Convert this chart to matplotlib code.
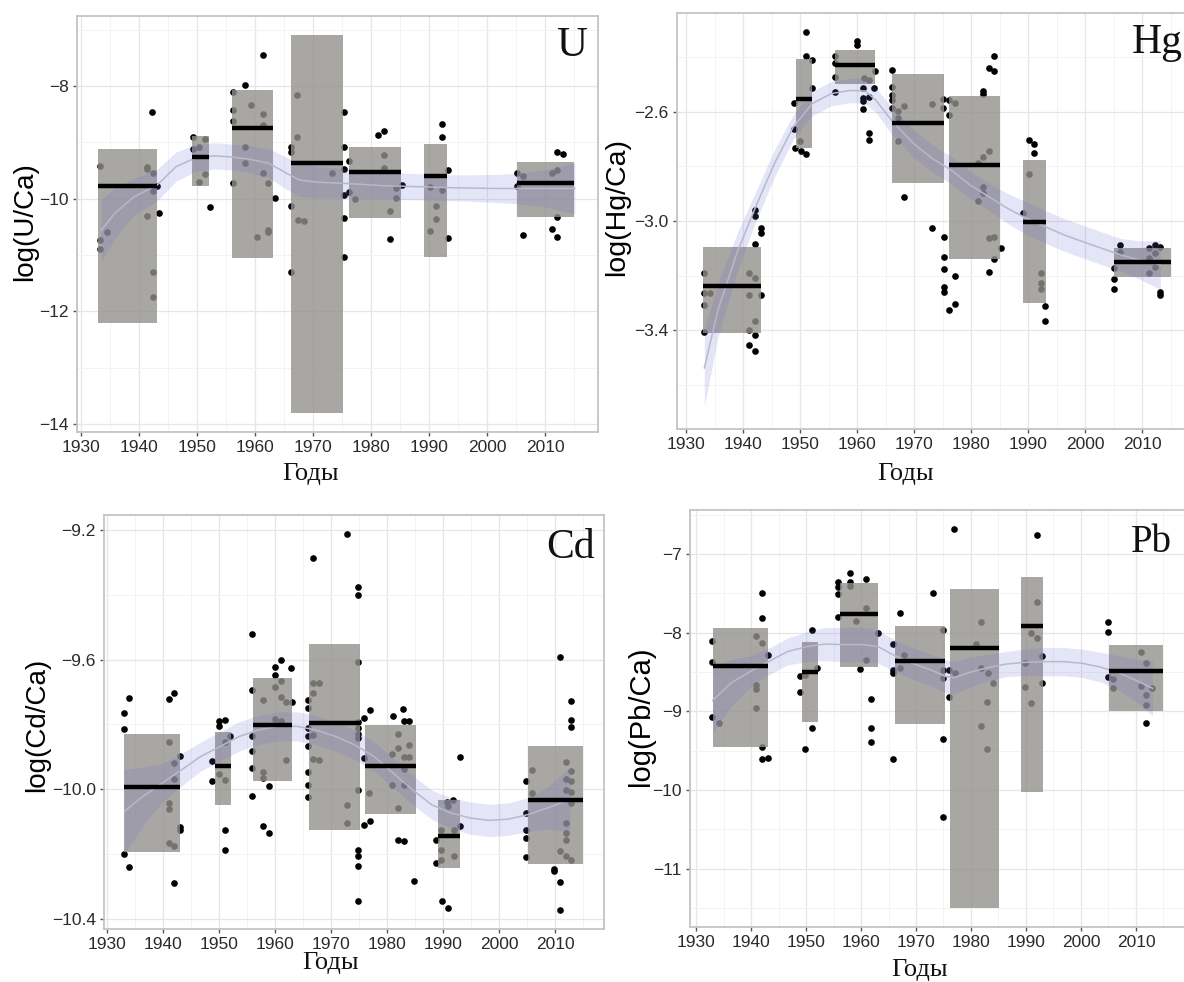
import matplotlib
matplotlib.use("Agg")
import matplotlib.pyplot as plt
from matplotlib.patches import Rectangle
from matplotlib.ticker import FixedLocator
import numpy as np

W, H = 1184, 982

# ---------------- data ----------------
group_start = [1933.0, 1949.2, 1956.1, 1966.1, 1976.1, 1989.1, 2005.1]
group_end = [1943.1, 1952.1, 1963.1, 1975.2, 1985.1, 1993.1, 2015.0]
year_ticks = [1930, 1940, 1950, 1960, 1970, 1980, 1990, 2000, 2010]

# U
U_box_low = [-12.21, -9.78, -11.05, -13.81, -10.35, -11.03, -10.33]
U_box_high = [-9.12, -8.89, -8.08, -7.10, -9.09, -9.03, -9.35]
U_box_median = [-9.78, -9.27, -8.74, -9.36, -9.53, -9.60, -9.72]
U_pts_year = [1933.3, 1933.3, 1933.3, 1934.5, 1941.3, 1941.3, 1942.4, 1942.4, 1941.3, 1942.4, 1942.4, 1942.3, 1943.4, 1943.1,
              1949.3, 1949.3, 1950.3, 1951.4, 1951.4, 1950.4, 1952.3,
              1956.2, 1956.2, 1956.2, 1956.2, 1958.3, 1959.3, 1961.3, 1961.3, 1958.3, 1958.3, 1961.3, 1962.3, 1960.3, 1962.3, 1962.3, 1961.3, 1963.4,
              1966.2, 1966.2, 1966.2, 1966.2, 1967.2, 1967.2, 1967.4, 1968.4, 1973.2, 1975.4, 1975.4, 1975.4, 1975.4, 1975.4, 1975.4,
              1976.2, 1976.2, 1977.3, 1981.2, 1982.2, 1982.2, 1982.2, 1984.2, 1984.2, 1983.2, 1983.2, 1985.4,
              1992.2, 1992.2, 1993.2, 1990.2, 1992.2, 1991.1, 1991.1, 1990.2, 1993.2,
              2005.1, 2005.1, 2006.2, 2006.2, 2011.2, 2012.1, 2012.1, 2013.1, 2012.1, 2011.2, 2012.1]
U_pts_val = [-9.42, -10.74, -10.90, -10.59, -9.43, -9.47, -9.55, -9.87, -10.30, -11.31, -11.74, -8.46, -10.26, -9.77,
             -8.90, -9.12, -9.08, -8.95, -9.57, -9.70, -10.14,
             -8.10, -8.43, -8.62, -9.73, -7.99, -8.34, -8.49, -8.69, -9.08, -9.37, -9.54, -9.72, -10.68, -10.56, -10.60, -7.46, -9.98,
             -9.08, -9.17, -10.13, -11.30, -8.17, -8.90, -10.38, -10.39, -9.54, -8.46, -9.08, -9.47, -9.94, -10.35, -11.03,
             -9.34, -9.88, -10.01, -8.87, -8.80, -9.23, -9.45, -9.81, -9.98, -10.22, -10.72, -9.76,
             -8.68, -8.90, -9.50, -9.79, -9.85, -10.13, -10.36, -10.57, -10.69,
             -9.55, -9.77, -9.59, -10.64, -9.55, -9.49, -9.18, -9.21, -10.32, -10.53, -10.68]
U_fit_year = [1933.5, 1935.8, 1939.1, 1943.1, 1946.4, 1949.7, 1953.0, 1955.7, 1959.0, 1962.3, 1964.9, 1967.6, 1970.9,
              1975.5, 1982.1, 1988.7, 1995.3, 2001.9, 2005.2, 2010.0, 2015.1]
U_fit_val = [-10.56, -10.26, -9.97, -9.76, -9.43, -9.28, -9.24, -9.26, -9.30, -9.37, -9.52, -9.67, -9.71,
             -9.73, -9.77, -9.79, -9.81, -9.82, -9.82, -9.82, -9.82]
U_fit_half = [0.55, 0.45, 0.33, 0.28, 0.26, 0.24, 0.23, 0.23, 0.24, 0.26, 0.28, 0.29, 0.28,
              0.26, 0.24, 0.23, 0.23, 0.25, 0.27, 0.33, 0.45]

# Hg
Hg_box_low = [-3.411, -2.734, -2.496, -2.862, -3.140, -3.301, -3.206]
Hg_box_high = [-3.094, -2.405, -2.372, -2.460, -2.543, -2.777, -3.098]
Hg_box_median = [-3.238, -2.554, -2.429, -2.640, -2.796, -3.002, -3.152]
Hg_pts_year = [1933.1, 1933.1, 1933.1, 1933.1, 1934.2, 1941.0, 1941.0, 1942.1, 1942.1, 1941.0, 1942.1, 1941.0, 1942.1, 1942.1, 1942.1, 1942.1, 1943.1, 1943.1, 1943.1,
               1951.1, 1951.1, 1952.1, 1952.1, 1948.9, 1948.9, 1949.1, 1950.1, 1951.1, 1950.0,
               1956.1, 1956.1, 1956.1, 1956.1, 1960.0, 1960.0, 1961.0, 1961.0, 1961.0, 1961.0, 1962.1, 1962.1, 1962.1, 1963.0, 1963.2, 1961.2, 1962.0,
               1966.1, 1966.1, 1966.1, 1966.1, 1966.1, 1967.2, 1967.2, 1968.2, 1967.2, 1968.2, 1973.1, 1973.1, 1975.1, 1975.1, 1975.2, 1975.2, 1975.2, 1975.2, 1975.2,
               1976.2, 1976.2, 1977.2, 1976.1, 1977.1, 1977.1,
               1982.1, 1982.1, 1983.1, 1984.1, 1984.1, 1983.1, 1982.1, 1981.2, 1982.1, 1982.1, 1981.2, 1983.1, 1984.1, 1984.1, 1983.1, 1985.2,
               1990.1, 1991.1, 1991.1, 1990.1, 1989.1, 1992.2, 1992.2, 1992.2, 1993.0, 1993.0,
               2005.1, 2005.1, 2005.1, 2006.1, 2006.1, 2011.2, 2011.2, 2011.2, 2012.2, 2013.2, 2012.2, 2012.2, 2013.2, 2013.2]
Hg_pts_val = [-3.191, -3.265, -3.309, -3.409, -3.265, -3.189, -3.271, -3.210, -3.365, -3.399, -3.417, -3.456, -3.476, -2.960, -2.982, -3.085, -3.027, -3.043, -3.273,
              -2.307, -2.396, -2.411, -2.511, -2.567, -2.661, -2.732, -2.744, -2.755, -2.707,
              -2.396, -2.421, -2.470, -2.527, -2.338, -2.356, -2.511, -2.549, -2.561, -2.588, -2.545, -2.677, -2.704, -2.511, -2.448, -2.476, -2.482,
              -2.445, -2.509, -2.537, -2.557, -2.584, -2.596, -2.624, -2.579, -2.706, -2.911, -2.572, -3.024, -2.554, -2.584, -3.060, -3.133, -3.177, -3.243, -3.261,
              -2.557, -2.612, -2.567, -3.326, -3.305, -3.200,
              -2.523, -2.535, -2.439, -2.451, -2.396, -2.744, -2.765, -2.789, -2.874, -2.899, -2.927, -3.063, -3.060, -3.140, -3.188, -3.098,
              -2.704, -2.716, -2.752, -2.826, -2.972, -3.189, -3.228, -3.250, -3.310, -3.368,
              -3.171, -3.213, -3.250, -3.088, -3.115, -3.100, -3.137, -3.191, -3.088, -3.094, -3.118, -3.167, -3.259, -3.271]
Hg_fit_year = [1933.2, 1935.6, 1938.9, 1942.2, 1945.5, 1948.8, 1952.1, 1955.4, 1958.7, 1961.4, 1963.3, 1966.0, 1969.9,
               1973.2, 1976.5, 1979.8, 1983.1, 1986.4, 1989.7, 1993.0, 1996.3, 1999.6, 2002.9, 2006.2, 2009.5, 2013.2]
Hg_fit_val = [-3.539, -3.326, -3.118, -2.948, -2.789, -2.655, -2.570, -2.533, -2.521, -2.523, -2.557, -2.630, -2.716,
              -2.771, -2.813, -2.868, -2.911, -2.954, -2.990, -3.021, -3.051, -3.076, -3.100, -3.124, -3.143, -3.161]
Hg_fit_half = [0.14, 0.10, 0.07, 0.055, 0.05, 0.045, 0.045, 0.045, 0.045, 0.045, 0.045, 0.05, 0.05,
               0.05, 0.05, 0.05, 0.05, 0.055, 0.06, 0.06, 0.06, 0.06, 0.06, 0.06, 0.07, 0.09]

# Cd
Cd_box_low = [-10.194, -10.050, -9.974, -10.127, -10.075, -10.243, -10.231]
Cd_box_high = [-9.829, -9.822, -9.658, -9.551, -9.801, -10.034, -9.868]
Cd_box_median = [-9.993, -9.929, -9.803, -9.796, -9.927, -10.145, -10.032]
Cd_pts_year = [1933.0, 1933.0, 1934.0, 1933.0, 1934.0, 1941.0, 1942.0, 1941.0, 1942.0, 1942.0, 1941.0, 1941.0, 1941.0, 1942.0, 1943.1, 1943.1, 1943.1, 1942.0,
               1950.0, 1950.0, 1951.0, 1948.8, 1948.8, 1950.0, 1951.0, 1951.0, 1952.0, 1951.0, 1951.0,
               1955.9, 1955.9, 1955.9, 1955.9, 1955.9, 1955.9, 1957.9, 1960.0, 1960.0, 1960.0, 1961.0, 1962.9, 1961.0, 1961.0, 1962.0, 1963.0, 1960.0, 1961.0, 1962.0, 1957.9, 1957.9, 1959.0, 1957.9, 1959.0,
               1965.8, 1965.8, 1965.8, 1965.8, 1965.8, 1965.8, 1965.8, 1965.8, 1966.8, 1966.8, 1967.8, 1966.8, 1966.8, 1966.8, 1967.8, 1972.8, 1972.8, 1972.8,
               1974.9, 1974.9, 1974.9, 1974.9, 1974.9, 1974.9, 1974.9, 1974.9, 1974.9, 1974.9, 1974.9, 1974.9,
               1975.9, 1975.9, 1977.0, 1977.0, 1975.9, 1976.8, 1981.1, 1982.8, 1983.0, 1984.0, 1981.9, 1984.0, 1980.9, 1981.9, 1983.0, 1984.0, 1983.0, 1980.9, 1983.0, 1981.9, 1981.9, 1983.0, 1984.9,
               1988.7, 1988.7, 1989.7, 1990.7, 1991.8, 1989.7, 1991.9, 1990.9, 1993.0, 1993.0, 1991.9, 1989.7, 1989.9, 1990.9,
               2004.8, 2004.8, 2004.8, 2004.8, 2004.8, 2005.9, 2005.9, 2010.9, 2010.9, 2010.9, 2011.9, 2011.9, 2011.9, 2011.9, 2011.9, 2011.9, 2011.9, 2010.9,
               2009.8, 2009.8, 2012.9, 2012.9, 2012.9, 2012.9, 2012.9, 2012.9, 2012.9, 2012.9]
Cd_pts_val = [-9.765, -9.813, -9.717, -10.199, -10.241, -9.721, -9.702, -9.854, -9.920, -9.969, -10.043, -10.061, -10.166, -10.174, -9.898, -10.117, -10.127, -10.288,
              -9.789, -9.806, -9.786, -9.914, -9.976, -9.953, -9.971, -9.854, -9.837, -10.125, -10.188,
              -9.522, -9.693, -9.837, -9.883, -9.935, -10.020, -9.724, -9.685, -9.624, -9.647, -9.601, -9.626, -9.667, -9.714, -9.732, -9.732, -9.784, -9.789, -9.909, -9.948, -9.965, -9.989, -10.114, -10.135,
              -9.724, -9.748, -9.811, -9.837, -9.868, -9.947, -9.986, -10.024, -9.288, -9.673, -9.673, -9.704, -9.834, -9.907, -9.909, -9.212, -10.048, -10.104,
              -9.606, -9.794, -9.811, -9.829, -9.842, -10.001, -10.186, -10.207, -10.238, -10.344, -9.377, -9.400,
              -9.780, -9.904, -9.755, -10.099, -10.109, -10.010, -9.773, -9.752, -9.788, -9.788, -9.829, -9.863, -9.890, -9.873, -9.899, -9.899, -9.938, -9.986, -9.986, -10.058, -10.156, -10.161, -10.284,
              -10.156, -10.227, -10.125, -10.040, -10.034, -10.186, -10.125, -10.053, -9.899, -10.114, -10.207, -10.217, -10.344, -10.366,
              -9.976, -10.073, -10.125, -10.150, -10.209, -9.942, -10.012, -9.592, -10.287, -10.373, -9.916, -9.969, -10.001, -10.104, -10.135, -10.156, -10.207, -10.191,
              -10.246, -10.253, -9.729, -9.786, -9.809, -9.945, -9.976, -10.007, -10.042, -10.217]
Cd_fit_year = [1933.1, 1936.4, 1939.8, 1943.3, 1946.7, 1950.2, 1953.6, 1957.0, 1960.5, 1963.9, 1967.3, 1970.8,
               1974.2, 1977.7, 1981.1, 1984.5, 1988.0, 1991.4, 1994.9, 1998.3, 2001.7, 2005.2, 2008.6, 2012.7]
Cd_fit_val = [-10.068, -10.022, -9.981, -9.940, -9.899, -9.868, -9.837, -9.817, -9.806, -9.806, -9.817, -9.837,
              -9.863, -9.899, -9.950, -10.001, -10.048, -10.073, -10.089, -10.096, -10.092, -10.078, -10.058, -10.032]
Cd_fit_half = [0.13, 0.09, 0.06, 0.05, 0.045, 0.045, 0.045, 0.045, 0.045, 0.045, 0.045, 0.045,
               0.045, 0.045, 0.045, 0.045, 0.045, 0.047, 0.05, 0.05, 0.05, 0.052, 0.065, 0.10]

# Pb
Pb_box_low = [-9.455, -9.129, -8.431, -9.159, -11.504, -10.026, -8.994]
Pb_box_high = [-7.935, -8.122, -7.372, -7.914, -7.444, -7.292, -8.151]
Pb_box_median = [-8.422, -8.503, -7.766, -8.355, -8.189, -7.914, -8.481]
Pb_pts_year = [1932.9, 1932.9, 1932.9, 1934.1, 1940.9, 1942.0, 1940.9, 1940.9, 1940.9, 1942.0, 1942.0, 1943.0, 1942.0, 1942.0, 1943.0,
               1948.9, 1948.9, 1949.9, 1951.0, 1952.0, 1951.0, 1949.9,
               1955.9, 1955.9, 1955.9, 1955.9, 1958.0, 1958.0, 1958.0, 1960.9, 1960.9, 1959.0, 1960.9, 1959.9, 1963.1, 1961.9, 1961.9, 1961.9,
               1965.9, 1965.9, 1965.9, 1967.0, 1967.0, 1967.9, 1965.9, 1973.0, 1975.0, 1975.0, 1975.0, 1975.0, 1975.0, 1976.0, 1976.0, 1977.1,
               1977.0, 1981.0, 1981.9, 1981.9, 1983.1, 1984.0, 1982.9, 1981.9, 1982.9,
               1992.0, 1992.0, 1991.0, 1992.0, 1993.0, 1993.0, 1989.9, 1989.9, 1991.0,
               2004.9, 2004.9, 2004.9, 2005.9, 2005.9, 2010.9, 2011.9, 2010.9, 2011.9, 2011.9, 2013.0, 2011.9]
Pb_pts_val = [-8.101, -8.376, -9.066, -9.150, -8.037, -8.126, -8.659, -8.710, -8.960, -7.499, -7.813, -8.283, -9.447, -9.607, -9.595,
              -8.545, -8.757, -8.537, -7.965, -8.452, -9.214, -9.480,
              -7.360, -7.423, -7.512, -7.796, -7.237, -7.351, -7.406, -7.317, -7.681, -7.851, -8.346, -8.465, -7.999, -8.841, -9.210, -9.392,
              -8.147, -8.473, -8.507, -7.745, -8.452, -8.283, -9.603, -7.499, -7.965, -8.473, -8.579, -9.353, -10.348, -8.473, -8.812, -8.515,
              -6.683, -8.147, -7.859, -8.443, -8.507, -8.642, -8.884, -9.184, -9.480,
              -6.759, -7.605, -7.999, -8.067, -8.295, -8.634, -8.388, -8.693, -8.888,
              -7.868, -7.995, -8.566, -8.592, -8.706, -8.240, -8.388, -8.676, -8.790, -8.918, -8.706, -9.150]
Pb_fit_year = [1933.0, 1936.3, 1939.8, 1943.2, 1946.6, 1950.1, 1953.5, 1956.9, 1960.4, 1963.1, 1965.9, 1969.3, 1972.7,
               1975.5, 1976.9, 1979.6, 1983.1, 1986.5, 1989.9, 1993.4, 1996.8, 2000.2, 2003.7, 2007.1, 2010.5, 2013.0]
Pb_fit_val = [-8.862, -8.642, -8.494, -8.367, -8.240, -8.177, -8.143, -8.151, -8.151, -8.177, -8.283, -8.388, -8.473,
              -8.558, -8.570, -8.507, -8.443, -8.397, -8.376, -8.367, -8.367, -8.388, -8.439, -8.515, -8.621, -8.706]
Pb_fit_half = [0.42, 0.30, 0.20, 0.17, 0.17, 0.19, 0.21, 0.22, 0.22, 0.21, 0.20, 0.20, 0.20,
               0.21, 0.21, 0.19, 0.17, 0.16, 0.17, 0.18, 0.18, 0.18, 0.19, 0.22, 0.28, 0.35]

# ---------------- style ----------------
SANS = ["Liberation Sans", "DejaVu Sans"]
SERIF = ["Liberation Serif", "DejaVu Serif"]
BOX_COLOR = (0.58, 0.57, 0.55)
BAND_COLOR = "#6a6ad8"
FIT_COLOR = "#b8b8cc"
GRID_MAJOR = "#e6e6e6"
GRID_MINOR = "#f3f3f3"
BORDER = "#c4c4c4"

fig = plt.figure(figsize=(W / 100, H / 100), dpi=100)
fig.patch.set_facecolor("white")


def px_axes(left, top, right, bottom):
    return fig.add_axes([left / W, 1 - bottom / H, (right - left) / W, (bottom - top) / H])


def panel(ax, xlim, ylim, yticks, yminor, ylabels, box_low, box_high, box_med,
          pts_x, pts_y, fit_x, fit_y, fit_half):
    ax.set_facecolor("white")
    ax.set_xlim(*xlim)
    ax.set_ylim(*ylim)
    ax.xaxis.set_major_locator(FixedLocator(year_ticks))
    ax.xaxis.set_minor_locator(FixedLocator([t + 5 for t in year_ticks]))
    ax.yaxis.set_major_locator(FixedLocator(yticks))
    ax.yaxis.set_minor_locator(FixedLocator(yminor))
    ax.set_yticklabels(ylabels)
    ax.set_xticklabels([str(t) for t in year_ticks])
    ax.grid(True, which="major", color=GRID_MAJOR, lw=0.9, zorder=0)
    ax.grid(True, which="minor", color=GRID_MINOR, lw=0.7, zorder=0)
    ax.set_axisbelow(True)
    for s in ax.spines.values():
        s.set_color(BORDER)
        s.set_linewidth(1.3)
    ax.tick_params(which="major", length=3, width=1.0, color="#555555", pad=3,
                   labelsize=12.5, labelcolor="#2a2a2a")
    ax.tick_params(which="minor", length=0)
    for lab in ax.get_xticklabels() + ax.get_yticklabels():
        lab.set_family(SANS)

    ax.scatter(pts_x, pts_y, s=23, color="black", lw=0, zorder=2)
    for x0, x1, lo, hi in zip(group_start, group_end, box_low, box_high):
        ax.add_patch(Rectangle((x0, lo), x1 - x0, hi - lo, facecolor=BOX_COLOR,
                               edgecolor="none", alpha=0.8, zorder=3))
    fx = np.asarray(fit_x)
    fy = np.asarray(fit_y)
    fh = np.asarray(fit_half)
    ax.fill_between(fx, fy - fh, fy + fh, color=BAND_COLOR, alpha=0.17, lw=0, zorder=4)
    ax.plot(fx, fy, color=FIT_COLOR, lw=1.1, zorder=5)
    for x0, x1, m in zip(group_start, group_end, box_med):
        ax.plot([x0, x1], [m, m], color="black", lw=3.2, solid_capstyle="butt", zorder=6)
    return ax


axU = px_axes(77, 16, 598, 432)
panel(axU, (1929.3, 2019.1), (-14.14, -6.76), [-8, -10, -12, -14], [-7, -9, -11, -13],
      ["\u22128", "\u221210", "\u221212", "\u221214"],
      U_box_low, U_box_high, U_box_median, U_pts_year, U_pts_val,
      U_fit_year, U_fit_val, U_fit_half)
axHg = px_axes(677, 13, 1194, 429)
panel(axHg, (1928.4, 2019.1), (-3.763, -2.237), [-2.6, -3.0, -3.4], [-2.4, -2.8, -3.2, -3.6],
      ["\u22122.6", "\u22123.0", "\u22123.4"],
      Hg_box_low, Hg_box_high, Hg_box_median, Hg_pts_year, Hg_pts_val,
      Hg_fit_year, Hg_fit_val, Hg_fit_half)
axCd = px_axes(104, 515, 604, 929)
panel(axCd, (1929.45, 2018.75), (-10.431, -9.154), [-9.2, -9.6, -10.0, -10.4], [-9.4, -9.8, -10.2],
      ["\u22129.2", "\u22129.6", "\u221210.0", "\u221210.4"],
      Cd_box_low, Cd_box_high, Cd_box_median, Cd_pts_year, Cd_pts_val,
      Cd_fit_year, Cd_fit_val, Cd_fit_half)
axPb = px_axes(690, 510, 1186, 927)
panel(axPb, (1928.9, 2019.1), (-11.74, -6.44), [-7, -8, -9, -10, -11], [-6.5, -7.5, -8.5, -9.5, -10.5, -11.5],
      ["\u22127", "\u22128", "\u22129", "\u221210", "\u221211"],
      Pb_box_low, Pb_box_high, Pb_box_median, Pb_pts_year, Pb_pts_val,
      Pb_fit_year, Pb_fit_val, Pb_fit_half)


def ftext(x, y, s, **kw):
    fig.text(x / W, 1 - y / H, s, ha="center", va="center", **kw)


ftext(25, 222, "log(U/Ca)", rotation=90, fontsize=20, family=SANS, color="black")
ftext(617, 207, "log(Hg/Ca)", rotation=90, fontsize=20.5, family=SANS, color="black")
ftext(37, 725, "log(Cd/Ca)", rotation=90, fontsize=20, family=SANS, color="black")
ftext(641, 716, "log(Pb/Ca)", rotation=90, fontsize=21, family=SANS, color="black")

ftext(311, 474, "Годы", fontsize=19, family=SERIF, color="#111111")
ftext(906, 474, "Годы", fontsize=19, family=SERIF, color="#111111")
ftext(331, 963, "Годы", fontsize=19, family=SERIF, color="#111111")
ftext(920, 970, "Годы", fontsize=19, family=SERIF, color="#111111")

ftext(572, 46, "U", fontsize=31, family=SERIF, color="#111111")
ftext(1157, 43, "Hg", fontsize=30, family=SERIF, color="#111111")
ftext(571, 548, "Cd", fontsize=30, family=SERIF, color="#111111")
ftext(1151, 543, "Pb", fontsize=28, family=SERIF, color="#111111")

fig.savefig("out.png", dpi=100, facecolor="white")
